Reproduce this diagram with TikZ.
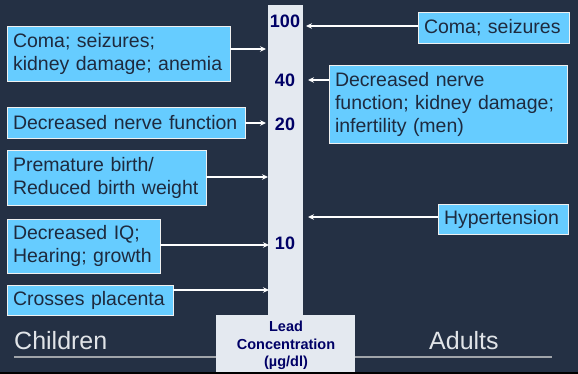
\documentclass[tikz,border=0pt]{standalone}
\usepackage{fontspec}
\setmainfont{Liberation Sans}
\usetikzlibrary{arrows.meta}
\definecolor{bgnavy}{RGB}{36,48,68}
\definecolor{boxblue}{RGB}{102,204,255}
\definecolor{boxtext}{RGB}{30,42,62}
\definecolor{colgray}{RGB}{228,233,240}
\definecolor{numnavy}{RGB}{0,0,102}
\definecolor{linegray}{RGB}{160,164,170}
\definecolor{labgray}{RGB}{225,228,232}
\tikzset{
  effbox/.style={draw=white!88!gray, line width=0.9pt, fill=boxblue, text=boxtext,
    inner xsep=6pt, inner ysep=0pt, align=left,
    font=\fontsize{19.5}{23}\selectfont},
  conn/.style={draw=white, line width=1.6pt, -{Stealth[length=6pt,width=5.5pt]}},
  numlab/.style={text=numnavy, font=\fontsize{18}{20}\selectfont\bfseries, inner sep=0pt},
  grouplab/.style={text=labgray, font=\fontsize{25}{28}\selectfont, inner sep=0pt, anchor=west}
}
\begin{document}
\begin{tikzpicture}[x=1pt,y=-1pt]
\useasboundingbox (0,0) rectangle (578,374);
\fill[bgnavy] (0,0) rectangle (578,374);
\fill[black] (0,372) rectangle (578,374);
% baseline rule
\draw[linegray, line width=1.5pt] (14,357) -- (552,357);
% column
\fill[colgray] (268,5) rectangle (303,315);
\node[fill=colgray, minimum width=139pt, minimum height=57pt, inner sep=0pt] (lead) at (285.5,343.5) {};
\node[text=numnavy, font=\fontsize{14.5}{17.5}\selectfont\bfseries, align=center, inner sep=0pt] (leadtxt) at (286,345.5) {Lead\\Concentration\\(µg/dl)};
% numbers
\node[numlab] (n100) at (285,21) {100};
\node[numlab] (n40) at (285,80) {40};
\node[numlab] (n20) at (285,124) {20};
\node[numlab] (n10) at (285,243) {10};
% children boxes
\node[effbox, text width=211pt, minimum height=55pt] (b1) at (118.5,53.5) {Coma; seizures;\\kidney damage; anemia};
\node[effbox, text width=226pt, minimum height=31pt] (b2) at (126,122.5) {Decreased nerve function};
\node[effbox, text width=187pt, minimum height=55pt] (b3) at (106.5,177.5) {Premature birth/\\Reduced birth weight};
\node[effbox, text width=141pt, minimum height=54pt] (b4) at (83.5,246) {Decreased IQ;\\Hearing; growth};
\node[effbox, text width=154pt, minimum height=30pt] (b5) at (90,300) {Crosses placenta};
% adult boxes
\node[effbox, text width=139pt, minimum height=31pt] (r1) at (493.5,27.5) {Coma; seizures};
\node[effbox, text width=226pt, minimum height=78pt] (r2) at (448,104) {Decreased nerve\\function; kidney damage;\\infertility (men)};
\node[effbox, text width=118pt, minimum height=30pt] (r3) at (503,219) {Hypertension};
% arrow targets
\coordinate (a1) at (266,49);
\coordinate (a2) at (266,123);
\coordinate (a3) at (268,177);
\coordinate (a4) at (269,245);
\coordinate (a5) at (269,290);
\coordinate (ar1) at (306,26);
\coordinate (ar2) at (308,80);
\coordinate (ar3) at (308,217);
\draw[conn] (b1.east |- a1) -- (a1);
\draw[conn] (b2.east |- a2) -- (a2);
\draw[conn] (b3.east |- a3) -- (a3);
\draw[conn] (b4.east |- a4) -- (a4);
\draw[conn] (b5.east |- a5) -- (a5);
\draw[conn] (r1.west |- ar1) -- (ar1);
\draw[conn] (r2.west |- ar2) -- (ar2);
\draw[conn] (r3.west |- ar3) -- (ar3);
% group labels
\node[grouplab] (children) at (14,341) {Children};
\node[grouplab] (adults) at (429,341) {Adults};
\end{tikzpicture}
\end{document}
